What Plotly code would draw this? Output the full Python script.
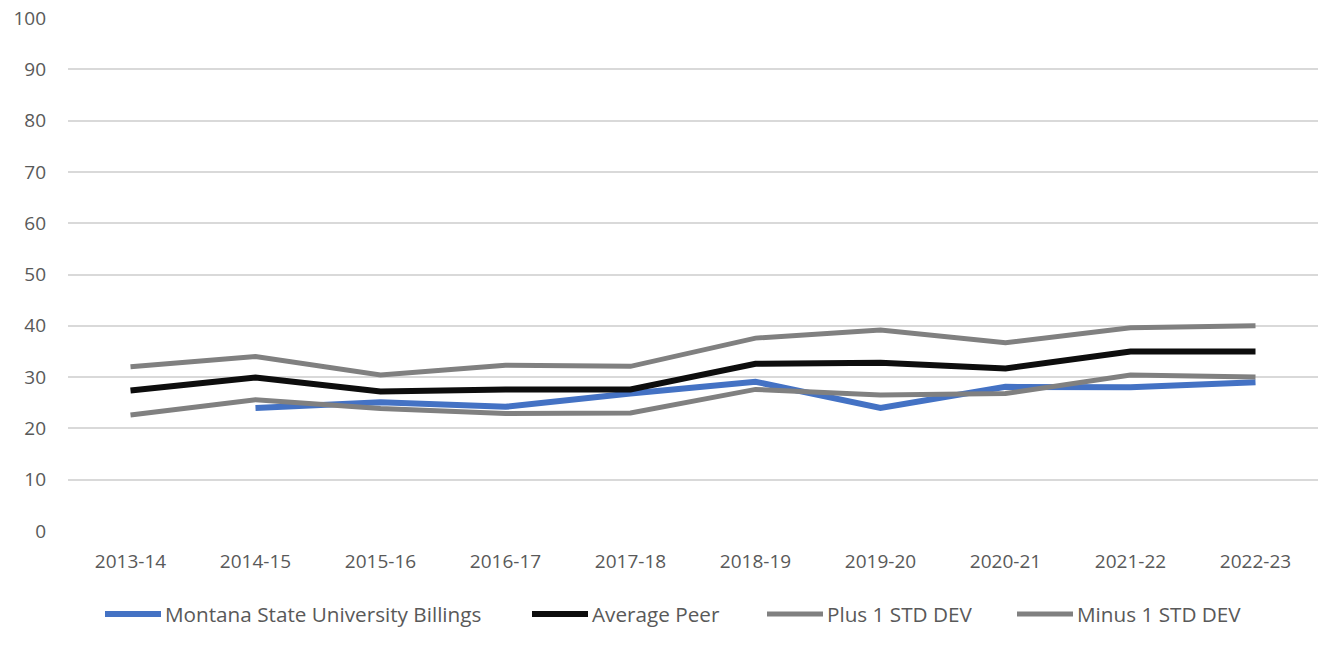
import plotly.graph_objects as go

categories = ["2013-14", "2014-15", "2015-16", "2016-17", "2017-18",
              "2018-19", "2019-20", "2020-21", "2021-22", "2022-23"]
msub = [None, 24.0, 25.1, 24.2, 26.8, 29.1, 24.0, 28.1, 28.0, 29.0]
avg_peer = [27.4, 29.9, 27.2, 27.6, 27.6, 32.6, 32.8, 31.7, 35.0, 35.0]
plus_1sd = [32.0, 34.0, 30.4, 32.3, 32.1, 37.6, 39.2, 36.7, 39.6, 40.0]
minus_1sd = [22.6, 25.6, 23.9, 22.9, 23.0, 27.6, 26.5, 26.8, 30.4, 30.0]
y_ticks = list(range(0, 101, 10))

series_names = ["Montana State University Billings", "Average Peer",
                "Plus 1 STD DEV", "Minus 1 STD DEV"]
series_values = [msub, avg_peer, plus_1sd, minus_1sd]
series_colors = ["#4472C4", "#0D0D0D", "#808080", "#808080"]
series_widths = [6, 6, 5, 5]

W, H = 1318, 649
ML, MR, MT, MB = 68, 0, 18, 118
PW, PH = W - ML - MR, H - MT - MB

font_family = "Open Sans, Liberation Sans, sans-serif"
text_color = "#595959"

def px_to_paper_x(px):
    return (px - ML) / PW

def px_to_paper_y(py):
    return (H - MB - py) / PH

fig = go.Figure()
for name, vals, color, w in zip(series_names, series_values, series_colors, series_widths):
    fig.add_trace(go.Scatter(
        x=categories, y=vals, name=name, mode="lines",
        line=dict(color=color, width=w, shape="linear"),
        connectgaps=False, showlegend=False,
    ))

# custom legend (long line samples like the original)
legend_sample_x = [105, 532, 767, 1017]
legend_sample_len = 56
legend_y = 614
shapes, annotations = [], []
for name, color, w, sx in zip(series_names, series_colors, series_widths, legend_sample_x):
    shapes.append(dict(type="line", xref="paper", yref="paper",
                       x0=px_to_paper_x(sx), x1=px_to_paper_x(sx + legend_sample_len),
                       y0=px_to_paper_y(legend_y), y1=px_to_paper_y(legend_y),
                       line=dict(color=color, width=w)))
    annotations.append(dict(text=name, xref="paper", yref="paper",
                            x=px_to_paper_x(sx + legend_sample_len + 2),
                            y=px_to_paper_y(legend_y), xanchor="left", yanchor="middle",
                            showarrow=False,
                            font=dict(family=font_family, size=20.7, color=text_color)))

fig.update_layout(
    width=W, height=H, autosize=False,
    margin=dict(l=ML, r=MR, t=MT, b=MB, pad=0),
    paper_bgcolor="white", plot_bgcolor="white",
    font=dict(family=font_family, size=20, color=text_color),
    showlegend=False,
    shapes=shapes, annotations=annotations,
    xaxis=dict(type="category", range=[-0.5, 9.5], showgrid=False, zeroline=False,
               showline=False, ticks="", tickfont=dict(size=19, color=text_color),
               ticklabelstandoff=17),
    yaxis=dict(range=[0, 100], tickvals=y_ticks, showgrid=True, gridcolor="#D9D9D9",
               gridwidth=1.5, zeroline=False, showline=False, ticks="",
               tickfont=dict(size=19, color=text_color), ticklabelstandoff=21),
)

fig.write_html("out.html", config={"responsive": False, "displayModeBar": False},
               post_script="document.body.style.margin='0px';document.body.style.padding='0px';")
